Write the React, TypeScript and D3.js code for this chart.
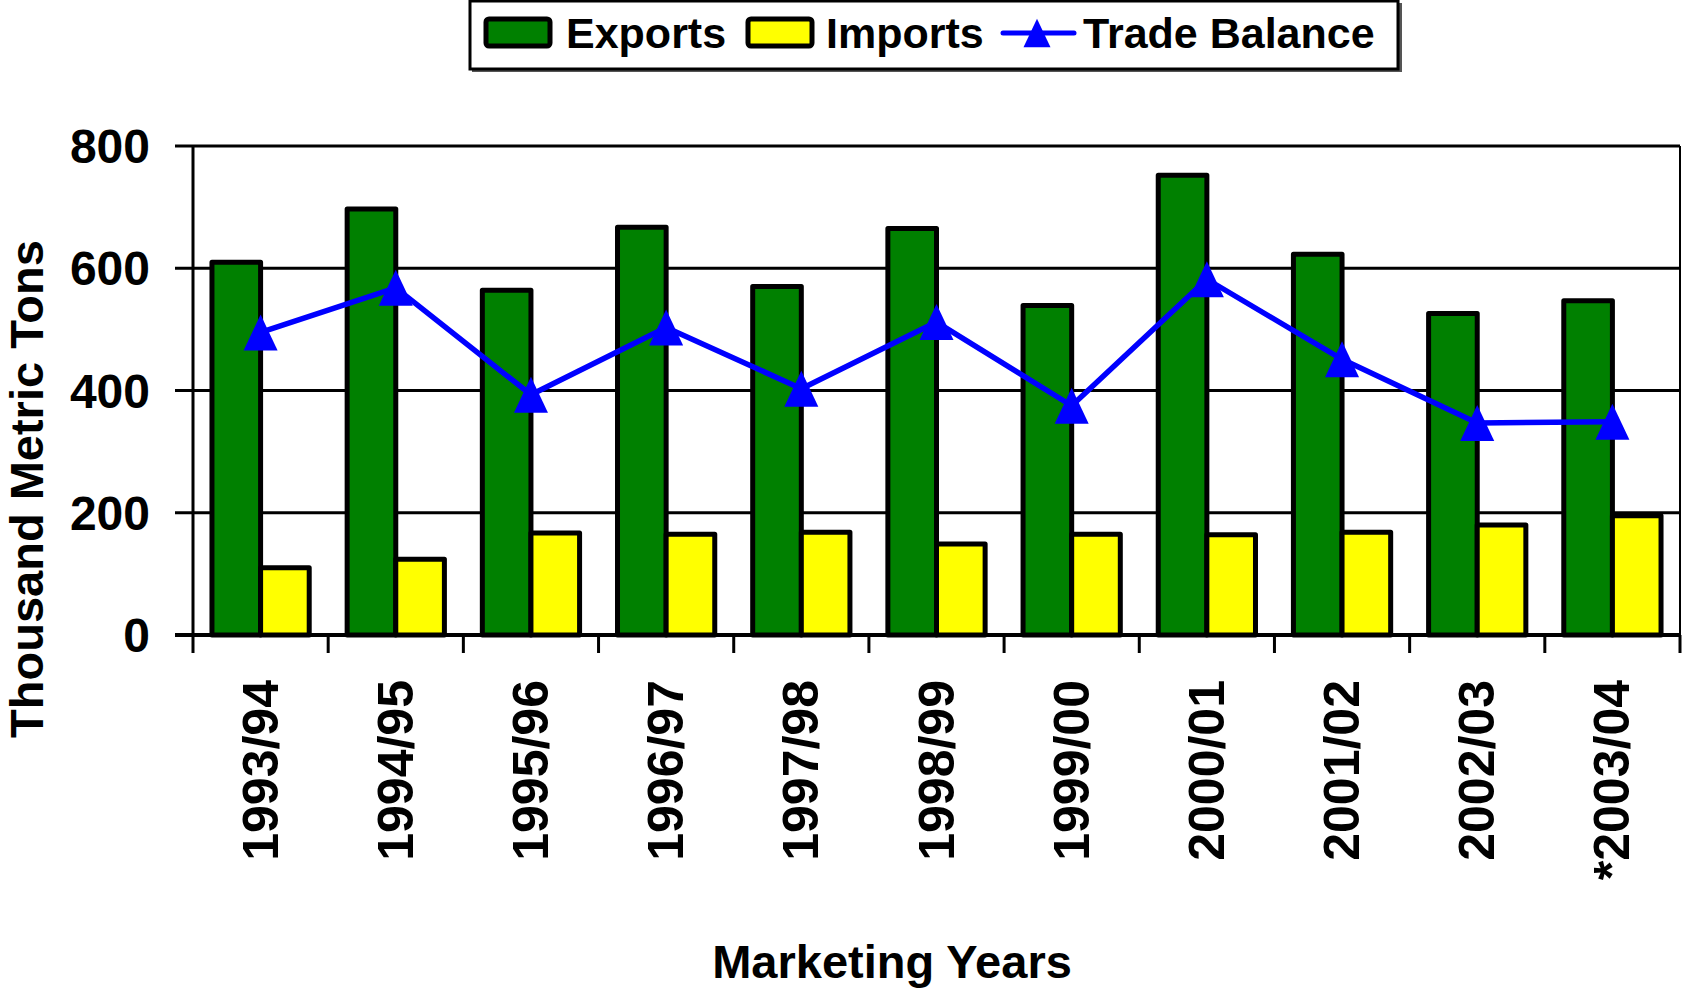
import * as React from 'react';
import * as d3 from 'd3';

const years = ['1993/94', '1994/95', '1995/96', '1996/97', '1997/98', '1998/99', '1999/00', '2000/01', '2001/02', '2002/03', '*2003/04'];
const exportsData = [610, 697, 564, 667, 570, 665, 539, 752, 623, 526, 547];
const importsData = [110, 124, 167, 165, 168, 149, 165, 164, 168, 180, 195];
const balanceData = [495, 568, 393, 503, 403, 512, 375, 582, 451, 347, 349];
const yTicks = [0, 200, 400, 600, 800];
const seriesNames = ['Exports', 'Imports'];

const W = 1683;
const H = 991;
const left = 193;
const right = 1680;
const top = 146;
const bottom = 635;
const font = '"Liberation Sans", Arial, sans-serif';

// excel style triangle, a bit taller than wide
const triangle = {
  draw(ctx, size) {
    const w = Math.sqrt(size);
    const h = w * 1.06;
    ctx.moveTo(0, -h / 2);
    ctx.lineTo(w / 2, h / 2);
    ctx.lineTo(-w / 2, h / 2);
    ctx.closePath();
  },
};

const App = () => {
  const x = d3.scaleBand().domain(years).range([left, right]).padding(0);
  const inner = d3.scaleBand().domain(seriesNames).range([0, x.bandwidth()]).paddingInner(0).paddingOuter(0.39);
  const y = d3.scaleLinear().domain([0, 800]).range([bottom, top]);
  const cx = (d) => x(d) + x.bandwidth() / 2;

  const line = d3
    .line()
    .x((d, i) => cx(years[i]))
    .y((d) => y(d));
  const marker = d3.symbol().type(triangle).size(34 * 34)();

  const colors = { Exports: '#008000', Imports: '#FFFF00' };
  const values = { Exports: exportsData, Imports: importsData };

  return (
    <svg width={W} height={H} style={{ position: 'absolute', left: 0, top: 0 }} fontFamily={font} fontWeight='bold'>
      <rect width={W} height={H} fill='white' />

      {/* legend */}
      <rect x={472} y={3} width={930} height={69} fill='#555' />
      <rect x={470} y={1} width={928} height={68} fill='white' stroke='black' strokeWidth={3} />
      <rect x={486} y={19} width={64} height={27} rx={3} fill='#008000' stroke='black' strokeWidth={5} />
      <text x={566} y={48} fontSize={43}>Exports</text>
      <rect x={748} y={19} width={64} height={27} rx={3} fill='#FFFF00' stroke='black' strokeWidth={5} />
      <text x={826} y={48} fontSize={43}>Imports</text>
      <line x1={1003} x2={1074} y1={33} y2={33} stroke='#0000FF' strokeWidth={5} strokeLinecap='round' />
      <path d={d3.symbol().type(triangle).size(27 * 27)()} transform='translate(1037,33)' fill='#0000FF' />
      <text x={1083} y={48} fontSize={43}>Trade Balance</text>

      {/* grid */}
      {yTicks.map((t) => (
        <g key={t}>
          <line x1={175} x2={right} y1={y(t)} y2={y(t)} stroke='black' strokeWidth={t === 0 ? 4 : 3} />
          <text x={150} y={y(t) + 17} fontSize={48} textAnchor='end'>{t}</text>
        </g>
      ))}
      <line x1={right} x2={right} y1={top} y2={bottom} stroke='black' strokeWidth={2} />

      {/* bars */}
      {years.map((yr, i) => (
        <g key={yr} transform={`translate(${x(yr)},0)`}>
          {seriesNames.map((s) => (
            <rect
              key={s}
              x={inner(s)}
              y={y(values[s][i])}
              width={inner.bandwidth()}
              height={y(0) - y(values[s][i])}
              fill={colors[s]}
              stroke='black'
              strokeWidth={5}
              strokeLinejoin='round'
            />
          ))}
        </g>
      ))}

      {/* axes */}
      <line x1={left} x2={left} y1={top} y2={653} stroke='black' strokeWidth={3} />
      {years.map((yr) => (
        <line key={yr} x1={x(yr) + x.bandwidth()} x2={x(yr) + x.bandwidth()} y1={bottom} y2={653} stroke='black' strokeWidth={3} />
      ))}

      {/* trade balance */}
      <path d={line(balanceData)} fill='none' stroke='#0000FF' strokeWidth={5.5} strokeLinejoin='round' />
      {balanceData.map((v, i) => (
        <path key={i} d={marker} transform={`translate(${cx(years[i])},${y(v)})`} fill='#0000FF' />
      ))}

      {/* category labels */}
      {years.map((yr) => (
        <text key={yr} transform={`translate(${cx(yr) + 17},680) rotate(-90)`} fontSize={50} textAnchor='end'>
          {yr}
        </text>
      ))}

      <text transform='translate(43,489) rotate(-90)' fontSize={47} textAnchor='middle'>Thousand Metric Tons</text>
      <text x={892} y={978} fontSize={47} textAnchor='middle'>Marketing Years</text>
    </svg>
  );
};

export default App;
